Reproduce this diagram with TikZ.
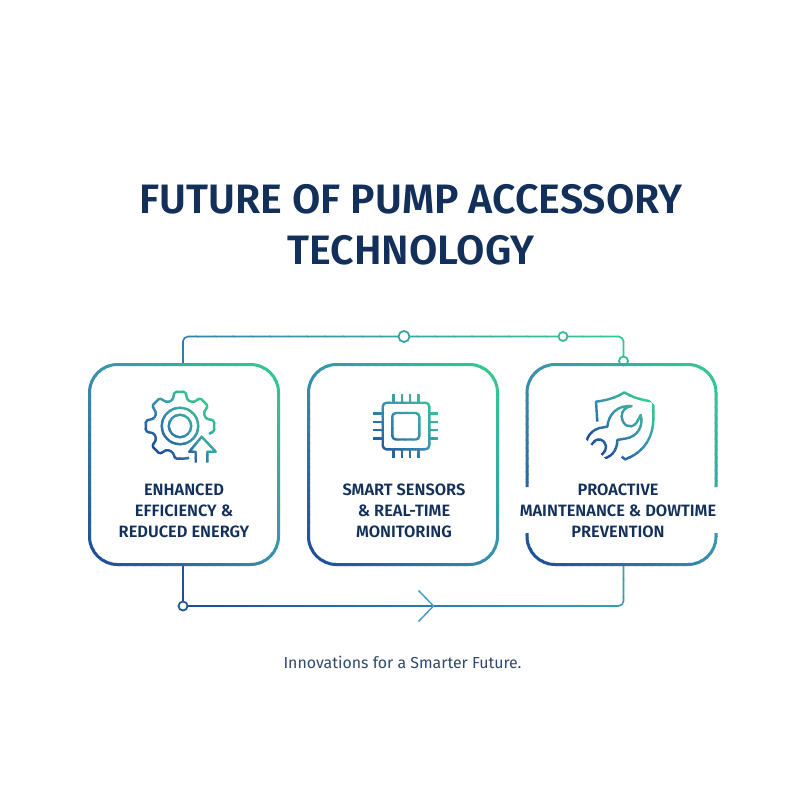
\documentclass[tikz,border=0pt]{standalone}
\usepackage{fontspec}
\setmainfont{Fira Sans}
\newfontface\firasemi{Fira Sans SemiBold}
\usetikzlibrary{calc}
\definecolor{gA}{HTML}{1B4A98}
\definecolor{gB}{HTML}{3A90AE}
\definecolor{gC}{HTML}{35CB8E}
\definecolor{ink}{HTML}{12305A}
\definecolor{capt}{HTML}{2F4A6B}
\definecolor{chevc}{HTML}{4A9CC8}
% stroke a path in a diagonal gradient: bottom-left gA, middle gB, top-right gC
% #1,#2 centre; #3 half extent; #4 bands; #5 draw options; #6 path
\newcommand{\gradstroke}[6]{%
  \foreach \bandi in {1,...,#4}{%
    \pgfmathsetmacro{\sA}{-#3+(\bandi-1)/#4*2*#3-0.4}%
    \pgfmathsetmacro{\sB}{-#3+\bandi/#4*2*#3+0.4}%
    \pgfmathsetmacro{\pct}{(\bandi-0.5)/#4*100}%
    \pgfmathsetmacro{\lo}{\pct<50?\pct*2:0}%
    \pgfmathsetmacro{\hi}{\pct>=50?(\pct-50)*2:0}%
    \ifdim\pct pt<50pt \colorlet{bandc}{gB!\lo!gA}\else\colorlet{bandc}{gC!\hi!gB}\fi
    \pgfmathsetmacro{\ux}{0.7071}%
    \begin{scope}
      \clip (#1+\sA*\ux-600*\ux,#2-\sA*\ux-600*\ux) -- (#1+\sB*\ux-600*\ux,#2-\sB*\ux-600*\ux)
         -- (#1+\sB*\ux+600*\ux,#2-\sB*\ux+600*\ux) -- (#1+\sA*\ux+600*\ux,#2-\sA*\ux+600*\ux) -- cycle;
      \draw[bandc,#5] #6;
    \end{scope}
  }%
}
\tikzset{
  card/.style={minimum width=189pt,minimum height=200pt,inner sep=0pt,outer sep=0pt},
  cardline/.style={line width=3pt,rounded corners=28pt,line cap=butt},
  iconline/.style={line width=2.4pt,line join=round,line cap=butt},
  wire/.style={line width=1.6pt,rounded corners=5pt},
  cardtext/.style={text=ink,align=center,font=\firasemi\fontsize{16.4}{21}\selectfont,inner sep=0pt},
  dotnode/.style={circle,fill=white,inner sep=0pt,line width=1.8pt},
  titletext/.style={text=ink,align=center,font=\firasemi\fontsize{41.1}{51}\selectfont,inner sep=0pt},
}
\begin{document}
\begin{tikzpicture}[x=1pt,y=-1pt]
\useasboundingbox (0,0) rectangle (800,800);
\fill[white] (0,0) rectangle (800,800);

\node[titletext] (title) at (411,225) {FUTURE OF PUMP ACCESSORY\\TECHNOLOGY};

% card anchors
\node[card] (c1) at (184,464.5) {};
\node[card] (c2) at (403,464.5) {};
\node[card] (c3) at (621.5,464.5) {};

% connectors
\gradstroke{404}{470}{260}{40}{wire}{($(c1.north)+(-1,0)$) -- ($(c1.north)+(-1,-28)$) -- ($(c3.north)+(2,-28)$) -- ($(c3.north)+(2,0)$)}
\gradstroke{404}{470}{260}{40}{wire}{($(c1.south)+(-1,0)$) -- ($(c1.south)+(-1,41.5)$) -- ($(c3.south)+(2,41.5)$) -- ($(c3.south)+(2,0)$)}

% small dots
\node[dotnode,draw=gB!70!gC,minimum size=11pt] (d1) at (404,336.5) {};
\node[dotnode,draw=gC!75!gB,minimum size=9pt] (d2) at (563,336.5) {};
\node[dotnode,draw=gC!75!gB,minimum size=9pt] (d3) at (623.5,361) {};
\node[dotnode,draw=gA!80!gB,minimum size=9pt] (d4) at (183,606) {};
\coordinate (chev) at (433.5,606);
\draw[chevc,line width=1.5pt,line join=miter] ($(chev)+(-15,-15.5)$) -- (chev) -- ($(chev)+(-15,15.5)$);

% card borders
\gradstroke{184}{464.5}{140}{50}{cardline}{(c1.north west) rectangle (c1.south east)}
\gradstroke{403}{464.5}{140}{50}{cardline}{(c2.north west) rectangle (c2.south east)}
\gradstroke{621.5}{464.5}{140}{50}{cardline}{($(c3.west)+(0,22.5)$) -- (c3.north west) -- (c3.north east) -- ($(c3.east)+(0,22.5)$)}
\gradstroke{621.5}{464.5}{140}{50}{cardline}{($(c3.west)+(0,68.5)$) -- (c3.south west) -- (c3.south east) -- ($(c3.east)+(0,68.5)$)}

% gear icon
\coordinate (g) at (180,426);
\gradstroke{180}{426}{36}{16}{iconline}{(g) circle[radius=18.2]}
\gradstroke{180}{426}{36}{16}{iconline}{(g) circle[radius=11.2]}
\gradstroke{180}{426}{36}{16}{iconline,rounded corners=1.5pt}{
  ($(g)+(74:33)$) -- ($(g)+(82:33)$) -- ($(g)+(98:33)$)  -- ($(g)+(106:27)$)
  \foreach \t in {135,180,225,270,315}{ -- ($(g)+(\t-16:27)$) -- ($(g)+(\t-9:34.5)$) -- ($(g)+(\t+9:34.5)$) -- ($(g)+(\t+16:27)$)}
  -- ($(g)+(344:27)$) -- ($(g)+(351:34.5)$) -- ($(g)+(369:34.5)$) -- ($(g)+(375:30)$)}
\gradstroke{202}{448}{20}{10}{iconline}{(195.7,462.7) -- (195.7,451.7) -- (189.3,451.7) -- (201.7,436.7) -- (215.7,451.7) -- (207.3,451.7) -- (207.3,462.7)}

% chip icon
\gradstroke{406}{426}{42}{16}{iconline,rounded corners=4pt}{(382.7,402.7) rectangle (429.3,449.3)}
\gradstroke{406}{426}{42}{16}{iconline,rounded corners=3.5pt}{(392.3,413) rectangle (419.3,439.5)}
\gradstroke{406}{426}{42}{16}{iconline}{
  \foreach \q in {393.3,401.7,410,418.3}{ (\q,394) -- (\q,402.7) (\q,450) -- (\q,458.3) }
  \foreach \q in {413.3,421.7,430,438.3}{ (373.3,\q) -- (382.7,\q) (429.3,\q) -- (438.3,\q) }}

% shield and wrench icon
\gradstroke{624}{426}{36}{16}{iconline,shift={(510,320)},scale=0.33333}{
  (262,305) -- (258,245) .. controls (295,240) and (320,232) .. (343,217)
  .. controls (366,232) and (395,240) .. (430,245) -- (430,300)
  .. controls (428,360) and (395,400) .. (345,418) -- (335,410)}
\gradstroke{624}{426}{36}{16}{iconline,shift={(510,320)},scale=0.33333}{
  (365,258) .. controls (345,262) and (335,272) .. (335,290)
  .. controls (337,315) and (360,330) .. (378,310)
  .. controls (385,300) and (388,292) .. (392,285)
  .. controls (402,320) and (380,352) .. (345,356) -- (322,360)
  .. controls (322,390) and (305,418) .. (262,418)
  .. controls (270,405) and (290,398) .. (288,378)
  .. controls (285,358) and (262,350) .. (250,368)
  .. controls (243,375) and (237,382) .. (230,387)
  .. controls (222,355) and (245,325) .. (280,322) -- (292,320)
  .. controls (295,285) and (320,255) .. (365,258) -- cycle}

% labels
\node[cardtext] (t1) at (184,510.5) {ENHANCED\\EFFICIENCY \&\\REDUCED ENERGY};
\node[cardtext] (t2) at (404,510.5) {SMART SENSORS\\\& REAL-TIME\\MONITORING};
\node[cardtext] (t3) at (618,510.5) {PROACTIVE\\MAINTENANCE \& DOWTIME\\PREVENTION};
\node[text=capt,font=\fontsize{15.9}{20}\selectfont,inner sep=0pt] (cap) at (402.5,662) {Innovations for a Smarter Future.};
\end{tikzpicture}
\end{document}
